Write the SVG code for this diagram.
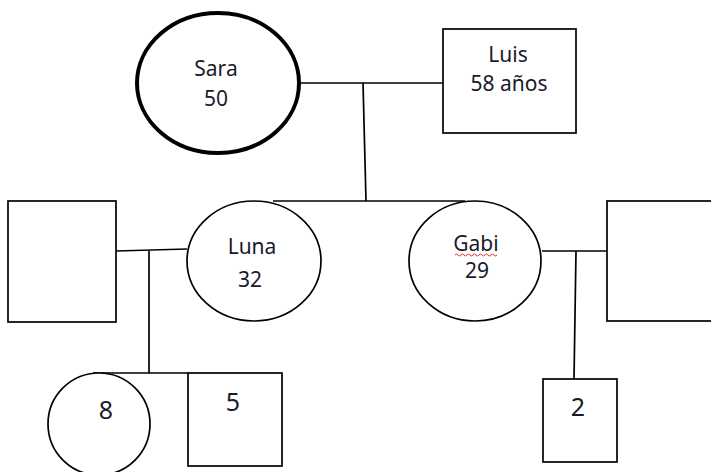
<svg xmlns="http://www.w3.org/2000/svg" width="711" height="472" viewBox="0 0 711 472">
<style>
.s{fill:#fff;stroke:#000;stroke-width:1.7}
.b{fill:#fff;stroke:#000;stroke-width:4}
.c{fill:none;stroke:#000;stroke-width:1.7}
text{font-family:"Noto Sans","DejaVu Sans",sans-serif;font-size:21px;fill:#1a1a2a;text-anchor:middle}
.big{font-size:25px}
</style>
<rect width="711" height="472" fill="#fff"/>
<g id="connectors">
<line class="c" x1="300" y1="83" x2="443" y2="83"/>
<line class="c" x1="363" y1="83" x2="366" y2="201"/>
<line class="c" x1="273" y1="201" x2="465" y2="201"/>
<line class="c" x1="116" y1="251" x2="187" y2="249"/>
<line class="c" x1="149" y1="251" x2="149" y2="373"/>
<line class="c" x1="93" y1="373" x2="188" y2="373"/>
<line class="c" x1="542" y1="251" x2="607" y2="251"/>
<line class="c" x1="576" y1="251" x2="574" y2="379"/>
</g>
<g id="sara">
<ellipse class="b" cx="218" cy="83" rx="81" ry="70"/>
<text x="216" y="76">Sara</text>
<text x="216" y="106">50</text>
</g>
<g id="luis">
<rect class="s" x="443" y="29" width="133" height="104"/>
<text x="508" y="62">Luis</text>
<text x="509" y="91">58 años</text>
</g>
<g id="spouse-left">
<rect class="s" x="8" y="201" width="108" height="121"/>
</g>
<g id="luna">
<ellipse class="s" cx="254" cy="261" rx="67" ry="60"/>
<text x="252" y="254">Luna</text>
<text x="250" y="287">32</text>
</g>
<g id="gabi">
<ellipse class="s" cx="475" cy="261" rx="66" ry="60"/>
<text x="476" y="251">Gabi</text>
<path d="M455 255 q1.5 -2 3 0 t3 0 t3 0 t3 0 t3 0 t3 0 t3 0 t3 0 t3 0 t3 0 t3 0 t3 0 t3 0 t3 0" fill="none" stroke="#e03030" stroke-width="1"/>
<text x="477" y="278">29</text>
</g>
<g id="spouse-right">
<rect class="s" x="607" y="201" width="110" height="120"/>
</g>
<g id="child-8">
<ellipse class="s" cx="99" cy="424" rx="51" ry="51"/>
<text class="big" x="106" y="419">8</text>
</g>
<g id="child-5">
<rect class="s" x="188" y="373" width="94" height="93"/>
<text class="big" x="233" y="411">5</text>
</g>
<g id="child-2">
<rect class="s" x="543" y="379" width="74" height="83"/>
<text class="big" x="578" y="416">2</text>
</g>
</svg>
